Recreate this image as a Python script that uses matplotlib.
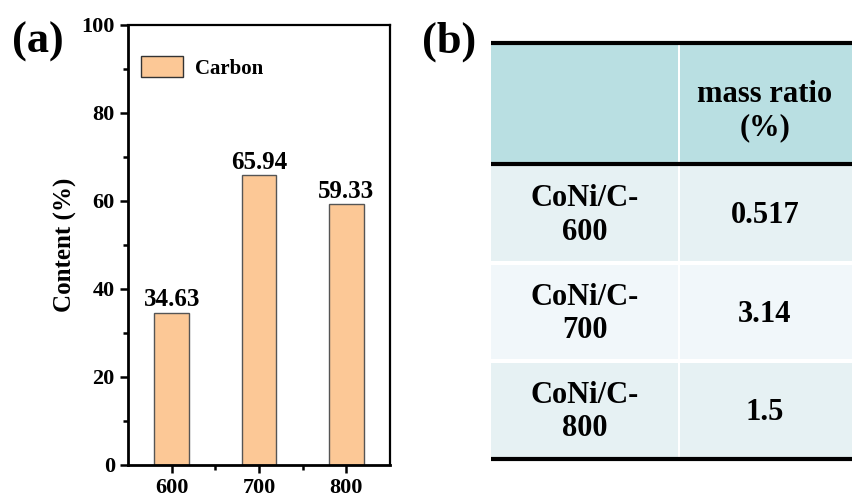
import matplotlib

matplotlib.use("Agg")
import matplotlib.pyplot as plt
from matplotlib.patches import Patch, Rectangle
from matplotlib.ticker import FixedLocator, MultipleLocator

plt.rcParams["font.family"] = ["Liberation Serif", "DejaVu Serif"]
plt.rcParams["font.weight"] = "bold"

# ---------------------------------------------------------------------------
# Data
# ---------------------------------------------------------------------------
temps = [600, 700, 800]
carbon = [34.63, 65.94, 59.33]

table_header = ["", "mass ratio\n(%)"]
sample_names = ["CoNi/C-\n600", "CoNi/C-\n700", "CoNi/C-\n800"]
mass_ratio = ["0.517", "3.14", "1.5"]

BAR_COLOUR = "#FCC896"
HEAD_COLOUR = "#B9DFE2"
ROW_COLOURS = ["#E6F1F3", "#F1F7FA", "#E6F1F3"]

W, H = 852, 501
fig = plt.figure(figsize=(W / 100, H / 100), dpi=100)

# ---------------------------------------------------------------------------
# (a) bar chart
# ---------------------------------------------------------------------------
ax = fig.add_axes([128 / W, (H - 465) / H, (390 - 128) / W, (465 - 25) / H])
ax.bar(temps, carbon, width=40, color=BAR_COLOUR, edgecolor="#555555",
       linewidth=1.0, label="Carbon")
for x, v in zip(temps, carbon):
    ax.text(x, v + 0.3, f"{v:.2f}", ha="center", va="bottom", fontsize=18,
            fontweight="bold")

ax.set_xlim(550, 850)
ax.set_ylim(0, 100)
ax.set_xticks(temps)
ax.xaxis.set_minor_locator(FixedLocator([650, 750]))
ax.yaxis.set_major_locator(MultipleLocator(20))
ax.yaxis.set_minor_locator(MultipleLocator(10))
ax.tick_params(which="major", direction="out", length=6, width=1.8,
               labelsize=16, top=False, right=False)
ax.tick_params(which="minor", direction="out", length=3.5, width=1.8,
               top=False, right=False)
for side in ["left", "bottom"]:
    ax.spines[side].set_linewidth(2.0)
for side in ["top", "right"]:
    ax.spines[side].set_linewidth(1.6)
ax.set_ylabel("Content (%)", fontsize=18, fontweight="bold", labelpad=3)
ax.legend(handles=[Patch(facecolor=BAR_COLOUR, edgecolor="#333333",
                         label="Carbon")],
          loc="upper left", frameon=False, fontsize=15, handlelength=2.0,
          handleheight=1.2, handletextpad=0.6, borderpad=0,
          borderaxespad=0, bbox_to_anchor=(0.05, 0.93))

fig.text(12 / W, 1 - 42 / H, "(a)", fontsize=32, fontweight="bold",
         va="center", ha="left")
fig.text(422 / W, 1 - 42 / H, "(b)", fontsize=32, fontweight="bold",
         va="center", ha="left")

# ---------------------------------------------------------------------------
# (b) table, drawn in pixel coordinates
# ---------------------------------------------------------------------------
tx = fig.add_axes([0, 0, 1, 1])
tx.set_xlim(0, W)
tx.set_ylim(H, 0)
tx.axis("off")

col_edges = [491, 678, 852]
row_edges = [43, 164, 263, 361, 459]
text_shift = [8, 2, 2, 2]
gap = 2

rows = [table_header] + [[n, m] for n, m in zip(sample_names, mass_ratio)]
colours = [HEAD_COLOUR] + ROW_COLOURS
for r, (cells, colour) in enumerate(zip(rows, colours)):
    y0, y1 = row_edges[r], row_edges[r + 1]
    for c, txt in enumerate(cells):
        x0, x1 = col_edges[c], col_edges[c + 1]
        tx.add_patch(Rectangle((x0 + (gap if c else 0), y0 + gap),
                               x1 - x0 - (gap if c else 0), y1 - y0 - 2 * gap,
                               facecolor=colour, edgecolor="none"))
        tx.text((x0 + x1) / 2, (y0 + y1) / 2 + text_shift[r], txt,
                ha="center", va="center", fontsize=22, fontweight="bold",
                linespacing=1.2)

for y in [row_edges[0], row_edges[1], row_edges[-1]]:
    tx.plot([col_edges[0], col_edges[-1]], [y, y], color="black", lw=3,
            solid_capstyle="butt")

fig.savefig("out.png", dpi=100)
